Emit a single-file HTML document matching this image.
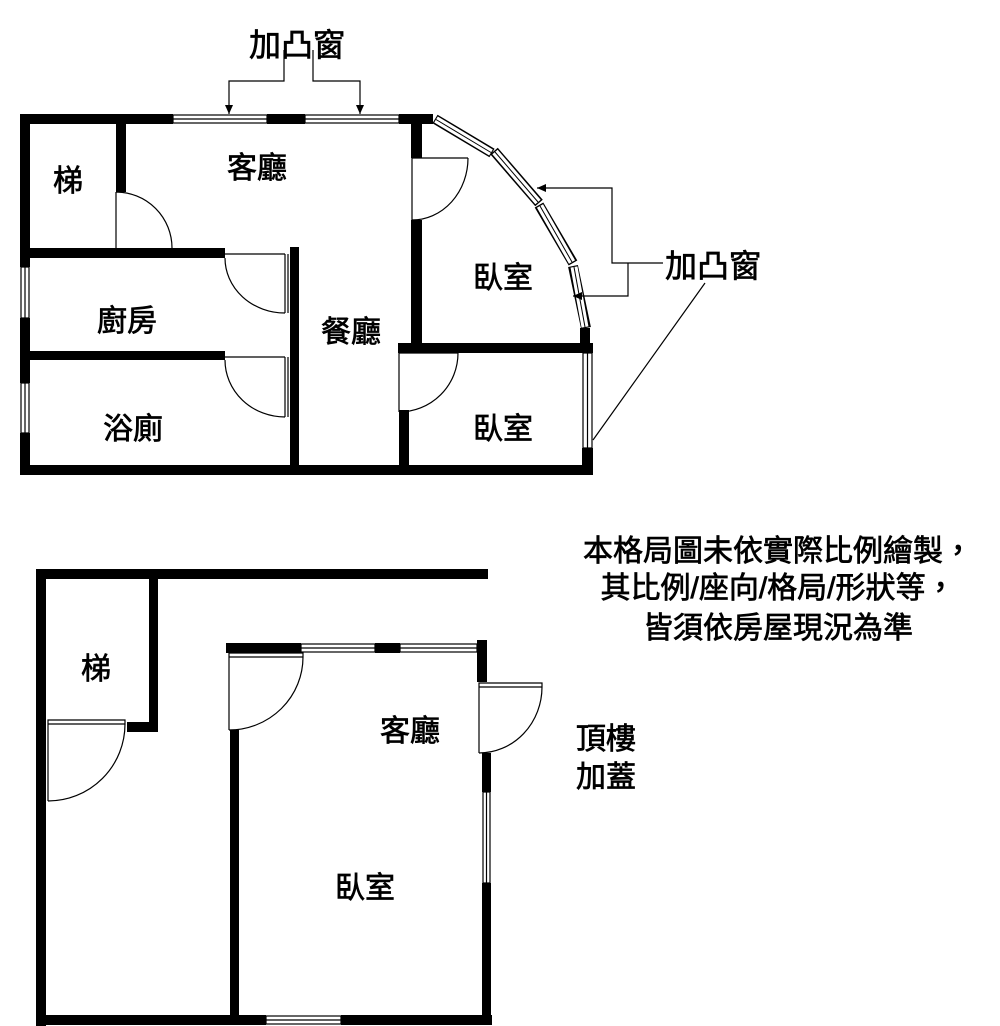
<!DOCTYPE html>
<html><head><meta charset="utf-8"><style>
html,body{margin:0;padding:0;background:#fff;}
svg{display:block;}
text{font-family:"Liberation Sans","Noto Sans CJK TC",sans-serif;font-weight:normal;fill:#000;stroke:#000;stroke-width:0.7;}
</style></head><body>
<svg width="1000" height="1026" viewBox="0 0 1000 1026" xmlns="http://www.w3.org/2000/svg">
<defs>
<marker id="ar" markerWidth="10" markerHeight="10" refX="9" refY="5" orient="auto" markerUnits="userSpaceOnUse">
<path d="M0,1 L9,5 L0,9 Z" fill="#000"/>
</marker>
</defs>
<g fill="#000">
<rect x="20" y="114" width="153" height="10"/>
<rect x="267" y="114" width="38" height="10"/>
<rect x="399" y="114" width="34" height="10"/>
<rect x="20" y="114" width="10" height="153"/>
<rect x="20" y="318" width="10" height="65"/>
<rect x="20" y="433" width="10" height="42"/>
<rect x="20" y="465" width="573" height="10"/>
<rect x="116" y="124" width="10" height="68"/>
<rect x="30" y="248" width="195" height="10"/>
<rect x="290" y="247" width="9" height="228"/>
<rect x="30" y="351" width="195" height="9"/>
<rect x="411" y="114" width="11" height="44"/>
<rect x="411" y="220" width="11" height="125"/>
<rect x="398" y="343" width="195" height="10"/>
<rect x="399" y="410" width="10" height="65"/>
<rect x="580" y="328" width="10" height="20"/>
<rect x="582" y="448" width="11" height="27"/>
<rect x="38" y="569" width="450" height="10"/>
<rect x="36" y="569" width="10" height="457"/>
<rect x="36" y="1015" width="230" height="10"/>
<rect x="341" y="1015" width="151" height="10"/>
<rect x="149" y="569" width="9" height="163"/>
<rect x="127" y="722" width="31" height="10"/>
<rect x="226" y="643" width="75" height="10"/>
<rect x="375" y="643" width="25" height="10"/>
<rect x="477" y="640" width="10" height="42"/>
<rect x="230" y="730" width="9" height="290"/>
<rect x="482" y="753" width="9" height="39"/>
<rect x="482" y="883" width="9" height="142"/>
</g>
<g fill="#fff" stroke="#000" stroke-width="1.2">
<rect x="173" y="115" width="94" height="8"/><line x1="173" y1="119" x2="267" y2="119"/>
<rect x="305" y="115" width="94" height="8"/><line x1="305" y1="119" x2="399" y2="119"/>
<rect x="21" y="267" width="8" height="51"/><line x1="25" y1="267" x2="25" y2="318"/>
<rect x="21" y="383" width="8" height="50"/><line x1="25" y1="383" x2="25" y2="433"/>
<rect x="583" y="353" width="9" height="95"/><line x1="587.5" y1="353" x2="587.5" y2="448"/>
<rect x="301" y="644" width="74" height="8"/><line x1="301" y1="648" x2="375" y2="648"/>
<rect x="400" y="644" width="77" height="8"/><line x1="400" y1="648" x2="477" y2="648"/>
<rect x="483" y="792" width="7" height="91"/><line x1="486.5" y1="792" x2="486.5" y2="883"/>
<rect x="266" y="1016" width="75" height="8"/><line x1="266" y1="1020" x2="341" y2="1020"/>
</g>
<g stroke="#000" stroke-width="10" stroke-linecap="butt" fill="none">
<line x1="435" y1="119" x2="492" y2="153"/>
<line x1="494" y1="151" x2="539" y2="203"/>
<line x1="539" y1="205" x2="573" y2="263"/>
<line x1="573" y1="266" x2="586" y2="328"/>
</g>
<g stroke="#fff" stroke-width="7" fill="none">
<line x1="436" y1="119.5" x2="491" y2="152.5"/>
<line x1="495" y1="152" x2="538" y2="202"/>
<line x1="540" y1="206" x2="572" y2="262"/>
<line x1="574" y1="267" x2="585" y2="327"/>
</g>
<g stroke="#000" stroke-width="1" fill="none">
<line x1="436" y1="119.5" x2="491" y2="152.5"/>
<line x1="495" y1="152" x2="538" y2="202"/>
<line x1="540" y1="206" x2="572" y2="262"/>
<line x1="574" y1="267" x2="585" y2="327"/>
</g>
<g stroke="#000" stroke-width="1.2" fill="none">
<path d="M116,192 L116,248 M116,192 A56,56 0 0 1 172,248"/>
<path d="M225,254 L285,254 M285,254 L285,313 M225,258 A60,55 0 0 0 285,313"/>
<line x1="288" y1="254" x2="288" y2="313"/>
<path d="M225,357 L285,357 M285,357 L285,417 M225,360 A60,57 0 0 0 285,417"/>
<line x1="288" y1="357" x2="288" y2="417"/>
<path d="M412,158 L468,158 M412,158 L412,220 M468,158 A56,62 0 0 1 412,220"/>
<path d="M399,353 L458,353 M399,353 L399,412 M458,353 A59,59 0 0 1 399,412"/>
<path d="M48,720 L125,720 L125,724 L48,724 Z M48,724 L48,801 M125,724 A77,77 0 0 1 48,801"/>
<path d="M229,653 L303,653 L303,657 L229,657 Z M229,657 L229,730 M303,657 A74,73 0 0 1 229,730"/>
<path d="M479,683 L542,683 L542,687 L479,687 Z M479,687 L479,753 M542,687 A63,66 0 0 1 479,753"/>
</g>
<g stroke="#000" stroke-width="1.2" fill="none">
<polyline points="284,50 284,81 229,81 229,114" marker-end="url(#ar)"/>
<polyline points="313,50 313,81 360,81 360,114" marker-end="url(#ar)"/>
<polyline points="663,263 612,263 612,188 537,188" marker-end="url(#ar)"/>
<polyline points="628,263 628,296 573,296" marker-end="url(#ar)"/>
<line x1="705" y1="283" x2="593" y2="440"/>
</g>
<g font-size="30" text-anchor="middle">
<text x="297" y="56" font-size="32">加凸窗</text>
<text x="713" y="277" font-size="32">加凸窗</text>
<text x="68" y="191">梯</text>
<text x="257" y="178">客廳</text>
<text x="127" y="331">廚房</text>
<text x="133" y="439">浴廁</text>
<text x="351" y="342">餐廳</text>
<text x="503" y="288">臥室</text>
<text x="503" y="439">臥室</text>
<text x="96" y="679">梯</text>
<text x="410" y="741">客廳</text>
<text x="365" y="898">臥室</text>
<text x="778" y="561" font-size="30">本格局圖未依實際比例繪製，</text>
<text x="778" y="598" font-size="30">其比例/座向/格局/形狀等，</text>
<text x="778" y="638" font-size="30">皆須依房屋現況為準</text>
</g>
<g font-size="30">
<text x="576" y="749">頂樓</text>
<text x="576" y="787">加蓋</text>
</g>
</svg>
</body></html>
